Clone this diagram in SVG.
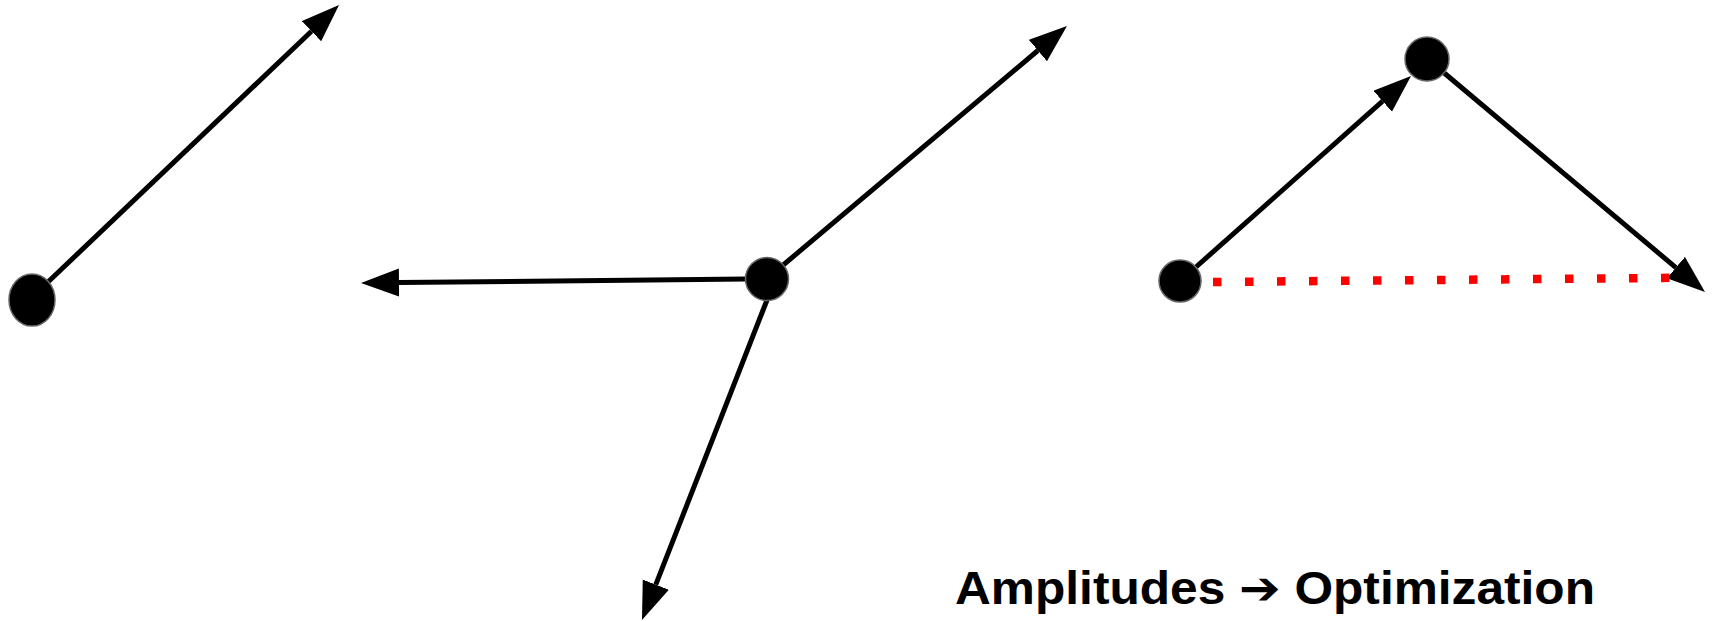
<svg xmlns="http://www.w3.org/2000/svg" width="1713" height="621" viewBox="0 0 1713 621">
  <style>
    .node { fill: #000000; stroke: #666666; stroke-width: 1.5; }
    .edge { fill: none; stroke: #000000; stroke-width: 5; }
    .dotted { fill: none; stroke: #ff0000; stroke-width: 8.5; stroke-dasharray: 8.5 23.5; }
    .label { font-family: "Liberation Sans", Arial, "DejaVu Sans", sans-serif; font-weight: bold; font-size: 46px; fill: #000000; }
  </style>
  <defs>
    <marker id="arrow" markerUnits="userSpaceOnUse" markerWidth="40" markerHeight="30" viewBox="0 0 40 30" refX="0" refY="14" orient="auto">
      <path d="M0,0 L38,14 L0,28 Z" fill="#000000"/>
    </marker>
  </defs>
  <rect width="1713" height="621" fill="#ffffff"/>
  <g id="connectors">
    <line class="edge" x1="48" y1="282" x2="311.5" y2="31.2" marker-end="url(#arrow)"/>
    <line class="edge" x1="746" y1="279" x2="399" y2="282.6" marker-end="url(#arrow)"/>
    <line class="edge" x1="782" y1="266" x2="1037.9" y2="50.5" marker-end="url(#arrow)"/>
    <line class="edge" x1="767" y1="300" x2="655.8" y2="584.6" marker-end="url(#arrow)"/>
    <line class="edge" x1="1196" y1="267" x2="1382.6" y2="101.2" marker-end="url(#arrow)"/>
    <line class="edge" x1="1443" y1="72" x2="1675.9" y2="267.6" marker-end="url(#arrow)"/>
    <line class="dotted" x1="1213" y1="282" x2="1677" y2="277.8"/>
  </g>
  <g id="node-left">
    <ellipse class="node" cx="32" cy="300" rx="23" ry="26"/>
  </g>
  <g id="node-center">
    <circle class="node" cx="767" cy="279" r="21.5"/>
  </g>
  <g id="node-right-start">
    <circle class="node" cx="1180" cy="281" r="21"/>
  </g>
  <g id="node-right-top">
    <circle class="node" cx="1427" cy="59" r="22"/>
  </g>
  <g id="caption">
    <text class="label" x="955" y="604" textLength="640" lengthAdjust="spacingAndGlyphs">Amplitudes ➔ Optimization</text>
  </g>
</svg>
